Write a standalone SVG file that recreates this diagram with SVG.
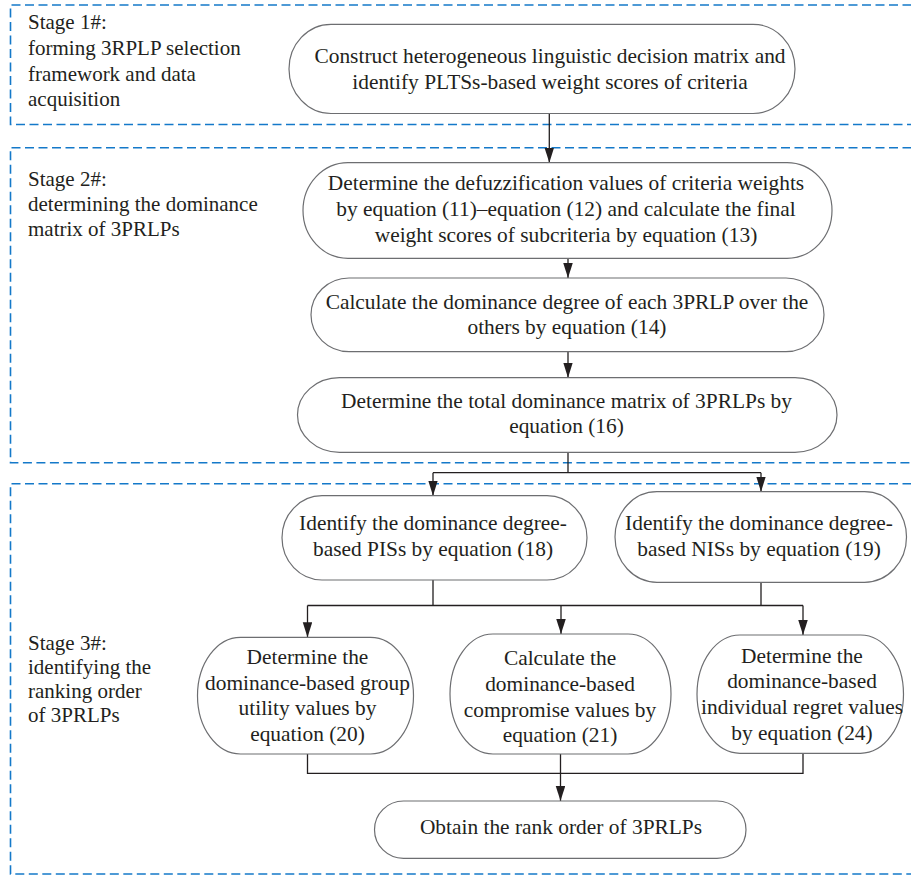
<svg xmlns="http://www.w3.org/2000/svg" width="911" height="877" viewBox="0 0 911 877">
<defs>
<marker id="arr" markerUnits="userSpaceOnUse" markerWidth="15" markerHeight="10" refX="15" refY="4.75" orient="auto">
<path d="M0,0 L15,4.75 L0,9.5 z" fill="#231f20"/>
</marker>
<style>
.stage{fill:none;stroke:#1479c9;stroke-width:1.6;stroke-dasharray:9 4.5}
.node{fill:#fff;stroke:#6d6e71;stroke-width:1.2}
.lbl{font-family:"Liberation Serif","Times New Roman",serif;font-size:21px;fill:#231f20}
.t{font-family:"Liberation Serif","Times New Roman",serif;font-size:21.4px;fill:#231f20;text-anchor:middle}
.c{fill:none;stroke:#231f20;stroke-width:1.3}
</style>
</defs>
<rect width="911" height="877" fill="#fff"/>

<g id="stage1">
<path class="stage" d="M925,5 H10.5 V124.5 H925"/>
<text class="lbl" x="28" y="28.5">Stage 1#:</text>
<text class="lbl" x="28" y="55">forming 3RPLP selection</text>
<text class="lbl" x="28" y="81">framework and data</text>
<text class="lbl" x="28" y="106">acquisition</text>
</g>
<g id="stage2">
<path class="stage" d="M925,147.7 H10.5 V462.8 H925"/>
<text class="lbl" x="28" y="186">Stage 2#:</text>
<text class="lbl" x="28" y="211">determining the dominance</text>
<text class="lbl" x="28" y="236">matrix of 3PRLPs</text>
</g>
<g id="stage3">
<path class="stage" d="M925,483.8 H10.5 V874 H925"/>
<text class="lbl" x="28" y="650">Stage 3#:</text>
<text class="lbl" x="28" y="674">identifying the</text>
<text class="lbl" x="28" y="698">ranking order</text>
<text class="lbl" x="28" y="722">of 3PRLPs</text>
</g>

<g id="connectors">
<path class="c" d="M549.3,113.5 V162.7" marker-end="url(#arr)"/>
<path class="c" d="M568,258.3 V278" marker-end="url(#arr)"/>
<path class="c" d="M568,351.7 V377.7" marker-end="url(#arr)"/>
<path class="c" d="M568,452.3 V472.7 M433,472.7 H761"/>
<path class="c" d="M433,472.7 V495.7" marker-end="url(#arr)"/>
<path class="c" d="M761,472.7 V491.7" marker-end="url(#arr)"/>
<path class="c" d="M433,580 V605.5 M761,582.3 V605.5 M307.5,605.5 H803"/>
<path class="c" d="M307.5,605.5 V637.3" marker-end="url(#arr)"/>
<path class="c" d="M561,605.5 V634" marker-end="url(#arr)"/>
<path class="c" d="M803,605.5 V635" marker-end="url(#arr)"/>
<path class="c" d="M307.5,754 V773.3 H803 V753.3"/>
<path class="c" d="M560.5,754 V801" marker-end="url(#arr)"/>
</g>

<g id="n1">
<rect class="node" x="289" y="24.3" width="506" height="89.2" rx="42" ry="44.6"/>
<text class="t" x="550" y="63">Construct heterogeneous linguistic decision matrix and</text>
<text class="t" x="550" y="89">identify PLTSs-based weight scores of criteria</text>
</g>
<g id="n2">
<rect class="node" x="303" y="162.7" width="529" height="95.6" rx="45" ry="47.8"/>
<text class="t" x="566" y="190">Determine the defuzzification values of criteria weights</text>
<text class="t" x="566" y="216">by equation (11)–equation (12) and calculate the final</text>
<text class="t" x="566" y="242">weight scores of subcriteria by equation (13)</text>
</g>
<g id="n3">
<rect class="node" x="311" y="278" width="513" height="73.7" rx="38" ry="36.85"/>
<text class="t" x="567" y="309">Calculate the dominance degree of each 3PRLP over the</text>
<text class="t" x="567" y="334">others by equation (14)</text>
</g>
<g id="n4">
<rect class="node" x="297.5" y="377.7" width="539.5" height="74.6" rx="42" ry="37.3"/>
<text class="t" x="566.5" y="408">Determine the total dominance matrix of 3PRLPs by</text>
<text class="t" x="566.5" y="433">equation (16)</text>
</g>
<g id="n5">
<rect class="node" x="282" y="495.7" width="305" height="84.3" rx="40" ry="42.15"/>
<text class="t" x="433" y="530">Identify the dominance degree-</text>
<text class="t" x="433" y="556">based PISs by equation (18)</text>
</g>
<g id="n6">
<rect class="node" x="615" y="491.7" width="291.5" height="90.6" rx="42" ry="45.3"/>
<text class="t" x="759" y="529.5">Identify the dominance degree-</text>
<text class="t" x="759" y="555.5">based NISs by equation (19)</text>
</g>
<g id="n7">
<rect class="node" x="197.5" y="637.3" width="216" height="116.7" rx="43" ry="58.35"/>
<text class="t" x="307.5" y="664">Determine the</text>
<text class="t" x="307.5" y="689.5">dominance-based group</text>
<text class="t" x="307.5" y="715">utility values by</text>
<text class="t" x="307.5" y="740.5">equation (20)</text>
</g>
<g id="n8">
<rect class="node" x="450" y="634" width="221" height="120" rx="43" ry="60"/>
<text class="t" x="560" y="665">Calculate the</text>
<text class="t" x="560" y="690.5">dominance-based</text>
<text class="t" x="560" y="716.5">compromise values by</text>
<text class="t" x="560" y="742">equation (21)</text>
</g>
<g id="n9">
<rect class="node" x="697" y="635" width="206.5" height="118.3" rx="43" ry="59.15"/>
<text class="t" x="802" y="662.5">Determine the</text>
<text class="t" x="802" y="688">dominance-based</text>
<text class="t" x="802" y="714">individual regret values</text>
<text class="t" x="802" y="740">by equation (24)</text>
</g>
<g id="n10">
<rect class="node" x="374.5" y="801" width="371.5" height="57.3" rx="29" ry="28.65"/>
<text class="t" x="561" y="834.3">Obtain the rank order of 3PRLPs</text>
</g>
</svg>
